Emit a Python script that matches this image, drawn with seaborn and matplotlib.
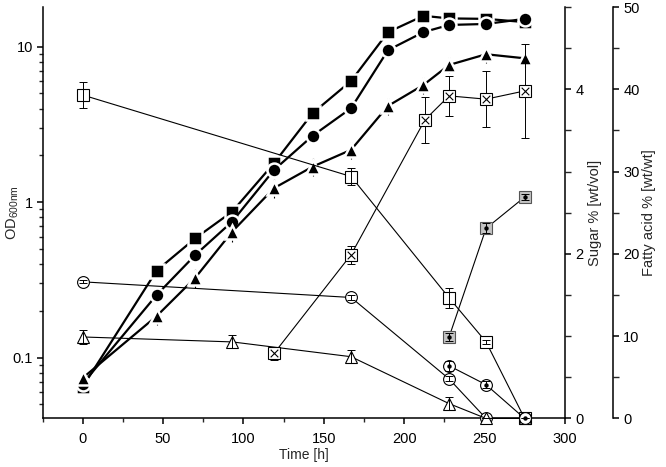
import numpy as np
import pandas as pd
import matplotlib
matplotlib.use('Agg')
import matplotlib.pyplot as plt
import seaborn as sns
from matplotlib.ticker import NullFormatter, MultipleLocator, FixedLocator, FixedFormatter, LogLocator

sns.set_theme(style='ticks')
plt.rcParams['font.family'] = ['Liberation Sans', 'DejaVu Sans']
plt.rcParams['mathtext.fontset'] = 'custom'
plt.rcParams['mathtext.rm'] = 'Liberation Sans'
plt.rcParams['mathtext.it'] = 'Liberation Sans'

# ---------------- data ----------------
# OD600 (left, log axis) - filled symbols
t_od = [0, 46, 70, 93, 119, 143, 167, 190, 212, 228, 251, 275]
od_square = [0.065, 0.363, 0.585, 0.869, 1.78, 3.73, 6.02, 12.4, 15.8, 15.2, 15.1, 14.4]
od_circle = [0.068, 0.253, 0.457, 0.75, 1.61, 2.67, 4.02, 9.5, 12.4, 13.8, 14.0, 15.1]
od_triangle = [0.074, 0.185, 0.326, 0.646, 1.23, 1.69, 2.17, 4.16, 5.67, 7.63, 8.94, 8.42]
od_triangle_err = [0.008, 0.024, 0.045, 0.09, 0.17, 0.22, 0.28, 0.55, 0.7, 0.9, 1.05, 1.0]

# Sugar % [wt/vol] (right axis) - open symbols
t_sug_square = [0, 167, 228, 251, 275]
sug_square = [3.93, 2.94, 1.465, 0.93, 0.0]
sug_square_err = [0.16, 0.1, 0.12, 0.02, 0.0]

t_sug_circle = [0, 167, 228, 251, 275]
sug_circle = [1.66, 1.47, 0.48, 0.0, 0.0]
sug_circle_err = [0.02, 0.03, 0.03, 0.0, 0.0]

t_sug_triangle = [0, 93, 167, 228, 251, 275]
sug_triangle = [0.99, 0.93, 0.75, 0.18, 0.0, 0.0]
sug_triangle_err = [0.08, 0.08, 0.08, 0.08, 0.0, 0.0]

# Fatty acid % [wt/wt] (outer right axis)
t_fa_cross = [119, 167, 213, 228, 251, 275]
fa_cross = [7.9, 19.9, 36.3, 39.2, 38.8, 39.8]
fa_cross_err = [0.8, 1.1, 2.8, 2.4, 3.4, 5.7]

t_fa_dsquare = [228, 251, 275]
fa_dsquare = [9.9, 23.1, 26.9]
fa_dsquare_err = [0.5, 0.6, 0.4]

t_fa_dcircle = [228, 251, 275]
fa_dcircle = [6.4, 4.1, 0.0]
fa_dcircle_err = [0.6, 0.4, 0.0]

x_ticks = [0, 50, 100, 150, 200, 250, 300]
od_ticks = [0.01, 0.1, 1, 10, 100]
od_tick_labels = ['0.01', '0.1', '1', '10', '100']

# ---------------- figure ----------------
fig = plt.figure(figsize=(6.66, 4.67), dpi=100)
ax = fig.add_axes([0.064, 0.104, 0.784, 0.881])
ax2 = ax.twinx()
ax3 = ax.twinx()

ax.set_yscale('log')

# filled OD series
ax.errorbar(t_od, od_triangle, yerr=od_triangle_err, fmt='none', ecolor='black',
            elinewidth=0.8, capsize=0, zorder=1)
for yv, mk in [(od_square, 's'), (od_circle, 'o'), (od_triangle, '^')]:
    sns.lineplot(x=t_od, y=yv, ax=ax, color='black', lw=1.6, marker=mk, ms=10,
                 mfc='black', mec='white', mew=1.8, errorbar=None, clip_on=False, zorder=2)

# open sugar series
for tt, yv, ee, mk in [(t_sug_square, sug_square, sug_square_err, 's'),
                       (t_sug_circle, sug_circle, sug_circle_err, 'o'),
                       (t_sug_triangle, sug_triangle, sug_triangle_err, '^')]:
    sns.lineplot(x=tt, y=yv, ax=ax2, color='black', lw=0.8, marker=mk, ms=8.5,
                 mfc='white', mec='black', mew=0.8, errorbar=None, clip_on=False, zorder=2)
    ax2.errorbar(tt, yv, yerr=ee, fmt='none', ecolor='black', elinewidth=0.7,
                 capsize=3, capthick=0.7, zorder=3, clip_on=False)

# fatty acid series
sns.lineplot(x=t_fa_cross, y=fa_cross, ax=ax3, color='black', lw=0.8, marker='s', ms=8.5,
             mfc='white', mec='black', mew=0.8, errorbar=None, clip_on=False, zorder=2)
sns.scatterplot(x=t_fa_cross, y=fa_cross, ax=ax3, marker='x', color='black', s=30,
                linewidth=0.8, zorder=3, clip_on=False)
ax3.errorbar(t_fa_cross, fa_cross, yerr=fa_cross_err, fmt='none', ecolor='black',
             elinewidth=0.7, capsize=3, capthick=0.7, zorder=1)

sns.lineplot(x=t_fa_dsquare, y=fa_dsquare, ax=ax3, color='black', lw=0.8, marker='s', ms=8.5,
             mfc='#c4c4c4', mec='#555555', mew=0.8, errorbar=None, clip_on=False, zorder=2)
sns.lineplot(x=t_fa_dcircle, y=fa_dcircle, ax=ax3, color='black', lw=0.8, marker='o', ms=8.5,
             mfc='white', mec='black', mew=0.8, errorbar=None, clip_on=False, zorder=2)
ax3.errorbar(t_fa_dsquare + t_fa_dcircle, fa_dsquare + fa_dcircle,
             yerr=fa_dsquare_err + fa_dcircle_err, fmt='none', ecolor='black',
             elinewidth=0.7, capsize=3, capthick=0.7, zorder=3, clip_on=False)
sns.scatterplot(x=t_fa_dsquare + t_fa_dcircle, y=fa_dsquare + fa_dcircle, ax=ax3,
                marker='o', color='black', s=10, linewidth=0, zorder=4, clip_on=False)

# ---------------- axes styling ----------------
ax.set_xlim(-25, 300)
ax.set_ylim(0.0406, 18)
ax2.set_ylim(0, 5)
ax3.set_ylim(0, 50)

ax.xaxis.set_major_locator(FixedLocator(x_ticks))
ax.xaxis.set_minor_locator(MultipleLocator(25))
ax.yaxis.set_major_locator(FixedLocator(od_ticks))
ax.yaxis.set_major_formatter(FixedFormatter(od_tick_labels))
ax.yaxis.set_minor_locator(LogLocator(base=10, subs=np.arange(2, 10), numticks=20))
ax.yaxis.set_minor_formatter(NullFormatter())

ax2.yaxis.set_major_locator(MultipleLocator(2))
ax2.yaxis.set_minor_locator(MultipleLocator(0.5))
ax3.yaxis.set_major_locator(MultipleLocator(10))
ax3.yaxis.set_minor_locator(MultipleLocator(5))

for a in (ax, ax2, ax3):
    a.spines['top'].set_visible(False)
    for s in a.spines.values():
        s.set_linewidth(1.1)
        s.set_color('black')
ax.spines['right'].set_visible(False)
for a in (ax2, ax3):
    a.spines['left'].set_visible(False)
    a.spines['bottom'].set_visible(False)
ax3.spines['right'].set_position(('outward', 34.6))

ax.tick_params(axis='both', which='major', direction='out', length=4, width=1.1,
               labelsize=10.5, pad=3, colors='black')
ax.tick_params(axis='both', which='minor', direction='out', length=3, width=1.0)
ax.tick_params(axis='x', which='major', pad=6)
for a in (ax2, ax3):
    a.tick_params(axis='y', which='major', direction='out', length=4.5, width=1.1,
                  labelsize=10.5, pad=3, colors='black')
    a.tick_params(axis='y', which='minor', direction='out', length=4.5, width=1.0)

ax.set_xlabel('Time [h]', fontsize=10, labelpad=1)
ax.set_ylabel(r'OD$_{\mathregular{600nm}}$', fontsize=10.5)
ax.yaxis.set_label_coords(-0.041, 0.5)
ax2.set_ylabel('Sugar % [wt/vol]', fontsize=10.5, labelpad=3)
ax3.set_ylabel('Fatty acid % [wt/wt]', fontsize=10.5, labelpad=2)

fig.savefig('out.png', dpi=100)
